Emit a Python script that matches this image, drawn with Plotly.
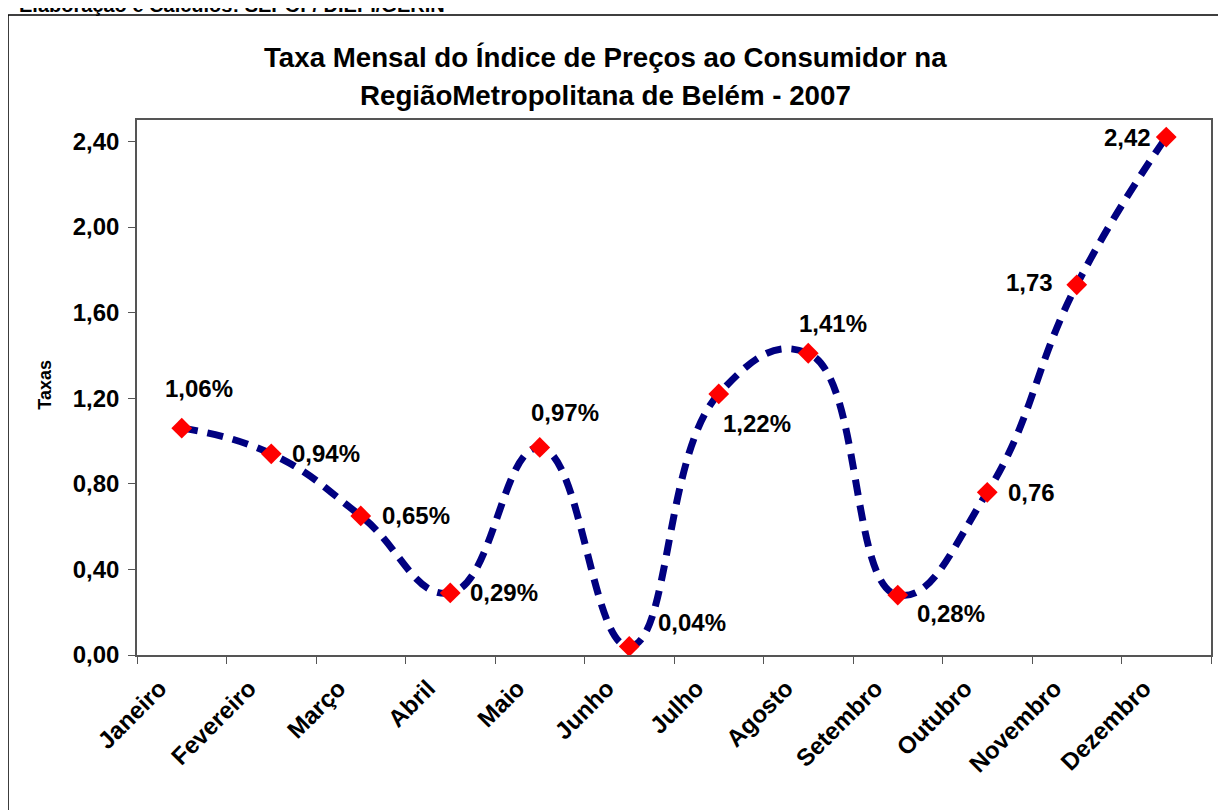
import plotly.graph_objects as go

months = ["Janeiro", "Fevereiro", "Março", "Abril", "Maio", "Junho",
          "Julho", "Agosto", "Setembro", "Outubro", "Novembro", "Dezembro"]
rates = [1.06, 0.94, 0.65, 0.29, 0.97, 0.04, 1.22, 1.41, 0.28, 0.76, 1.73, 2.42]
labels = ["1,06%", "0,94%", "0,65%", "0,29%", "0,97%", "0,04%",
          "1,22%", "1,41%", "0,28%", "0,76", "1,73", "2,42"]
# label offsets in pixels (style only)
label_dx = [17, 55, 55, 54, 25, 63, 38, 25, 53, 44, -47, -39]
label_dy = [40, 0, 0, 0, 35, 24, -30, 30, -18, 0, 2, 0]

title_lines = ["Taxa Mensal do Índice de Preços ao Consumidor na",
               "RegiãoMetropolitana de Belém - 2007"]
source_text = "Elaboração e Cálculos: SEPOF/ DIEPI/GERIN"
y_title = "Taxas"

FONT = "Liberation Sans, Arial, sans-serif"

fig = go.Figure()
fig.add_trace(go.Scatter(
    x=months, y=rates, mode="lines+markers",
    line=dict(color="#000080", width=7, dash="16px,10px", shape="spline", smoothing=1.3),
    marker=dict(symbol="diamond", color="#FF0000", size=16, line=dict(width=0)),
    showlegend=False, hoverinfo="skip", cliponaxis=False,
))

annotations = []
for m, v, t, dx, dy in zip(months, rates, labels, label_dx, label_dy):
    annotations.append(dict(x=m, y=v, xref="x", yref="y", text=t, showarrow=False,
                            xshift=dx, yshift=dy,
                            font=dict(family=FONT, size=24, color="black", weight="bold")))

# title lines
annotations.append(dict(x=0.4358, y=1.1159, xref="paper", yref="paper", text="<b>%s</b>" % title_lines[0],
                        showarrow=False, xanchor="center", yanchor="middle",
                        font=dict(family=FONT, size=27.7, color="black")))
annotations.append(dict(x=0.4358, y=1.0467, xref="paper", yref="paper", text="<b>%s</b>" % title_lines[1],
                        showarrow=False, xanchor="center", yanchor="middle",
                        font=dict(family=FONT, size=27.7, color="black")))
# y-axis title
annotations.append(dict(x=-0.0857, y=0.505, xref="paper", yref="paper", text="<b>%s</b>" % y_title,
                        showarrow=False, textangle=-90, xanchor="center", yanchor="middle",
                        font=dict(family=FONT, size=18, color="black")))
# source text (cut at the top, as in the reference)
annotations.append(dict(x=-0.1117, y=1.1907, xref="paper", yref="paper", text="<b>%s</b>" % source_text,
                        showarrow=False, xanchor="left", yanchor="bottom",
                        font=dict(family=FONT, size=20, color="black")))

# page body has an 8px margin, so the figure is 8px smaller and margins shifted
fig.update_layout(
    width=1218, height=802,
    margin=dict(l=129, r=15, t=112, b=155),
    paper_bgcolor="white", plot_bgcolor="white",
    separators=",.",
    font=dict(family=FONT, color="black"),
    annotations=annotations,
    shapes=[dict(type="rect", xref="paper", yref="paper",
                 x0=-0.1201, x1=1.05, y0=-0.35, y1=1.1963,
                 line=dict(color="black", width=1.5), fillcolor="rgba(0,0,0,0)", layer="below")],
)
fig.update_xaxes(
    type="category", range=[-0.5, 11.5], tickson="boundaries", ticks="outside", ticklen=7, tickcolor="#555",
    showline=True, linecolor="#555", linewidth=1.5, mirror=True, showgrid=False,
    tickangle=-45, ticklabelshift=-22, ticklabelstandoff=8,
    tickfont=dict(family=FONT, size=24, color="black", weight="bold"),
)
fig.update_yaxes(
    range=[0, 2.5], tickvals=[0, 0.4, 0.8, 1.2, 1.6, 2.0, 2.4], tickformat=".2f",
    ticks="outside", ticklen=7, tickcolor="#555", ticklabelstandoff=4,
    showline=True, linecolor="#555", linewidth=1.5, mirror=True, showgrid=False, zeroline=False,
    tickfont=dict(family=FONT, size=24, color="black", weight="bold"),
)

fig.write_html("out.html")
